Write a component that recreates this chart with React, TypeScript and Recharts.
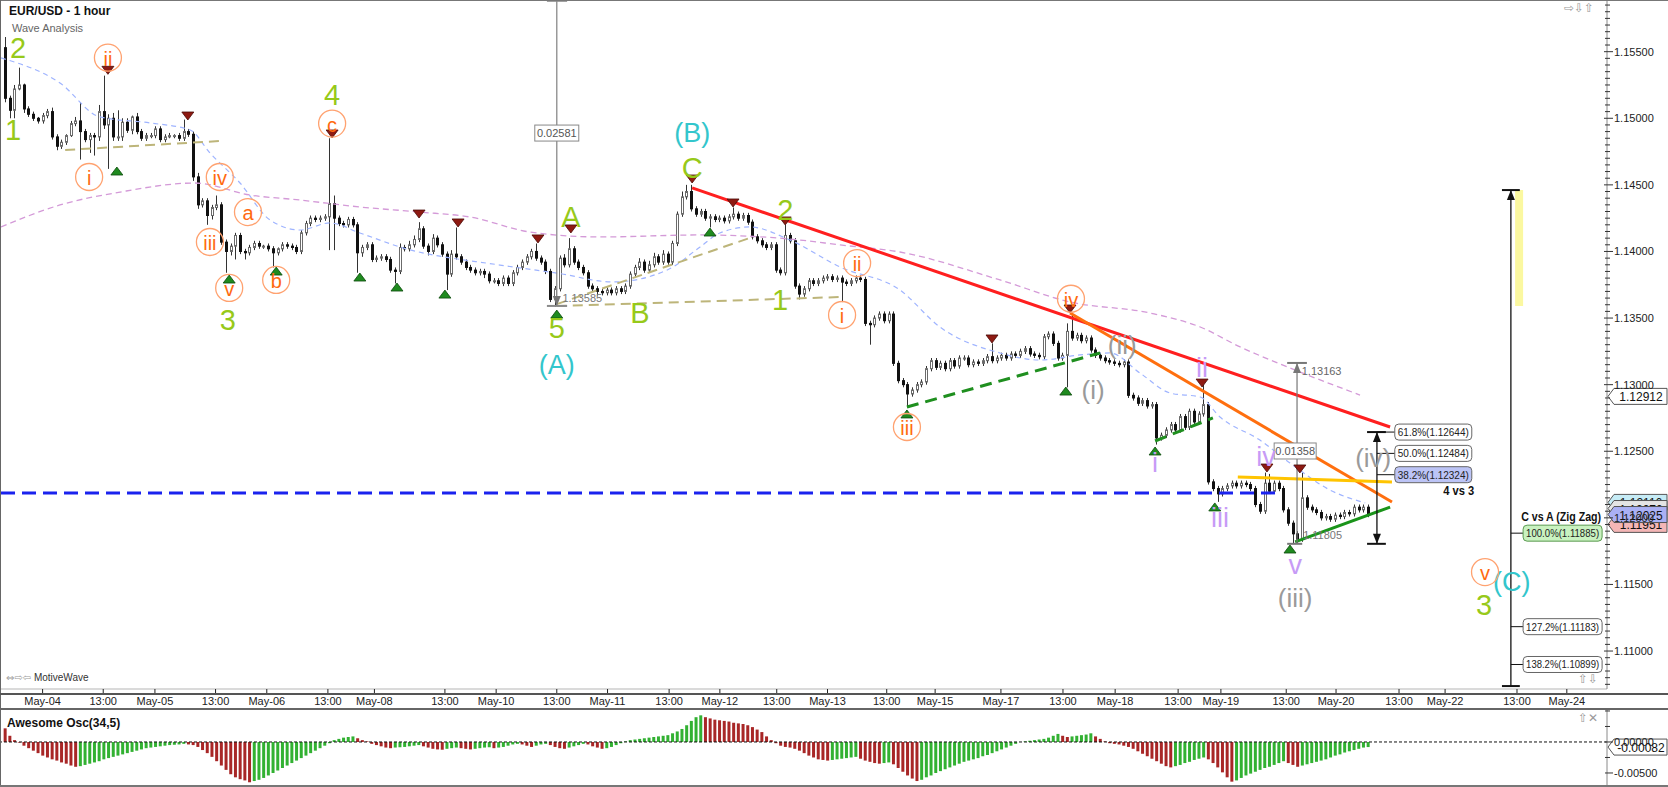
import React from "react";
import {
  ComposedChart,
  BarChart,
  Bar,
  Line,
  XAxis,
  YAxis,
  ReferenceLine,
  ReferenceDot,
  ReferenceArea,
  Cell,
} from "recharts";

const FONT = '"Liberation Sans", Arial, sans-serif';

// prices are kept as pips above 1.1000 (e.g. 523 -> 1.15230)
const firstOpen = 553;

const closes = [
  515, 506, 522, 525, 507, 503, 500, 498, 502, 505,
  486, 479, 482, 487, 496, 498, 490, 484, 487, 486,
  505, 495, 500, 486, 486, 497, 491, 501, 490, 485,
  487, 487, 492, 484, 486, 487, 487, 485, 490, 488,
  456, 435, 438, 427, 433, 435, 407, 400, 404, 412,
  400, 399, 403, 406, 404, 404, 402, 399, 402, 405,
  404, 403, 400, 414, 421, 425, 424, 425, 426, 436,
  425, 421, 420, 424, 420, 399, 403, 405, 394, 395,
  396, 394, 386, 385, 403, 402, 405, 409, 417, 404,
  400, 410, 405, 398, 383, 398, 396, 392, 388, 386,
  384, 385, 383, 378, 378, 376, 380, 376, 384, 388,
  392, 396, 400, 395, 392, 385, 364, 372, 395, 390,
  402, 392, 388, 384, 374, 372, 370, 369, 371, 369,
  372, 370, 374, 383, 388, 392, 386, 390, 396, 392,
  398, 392, 406, 428, 441, 445, 432, 428, 430, 425,
  426, 424, 425, 423, 426, 428, 425, 427, 422, 411,
  408, 405, 403, 405, 386, 384, 412, 408, 374, 368,
  372, 378, 376, 378, 380, 381, 379, 380, 377, 376,
  378, 380, 379, 346, 345, 350, 353, 348, 353, 316,
  303, 300, 293, 296, 300, 302, 312, 318, 313, 316,
  312, 318, 314, 320, 320, 315, 317, 316, 318, 321,
  318, 320, 322, 320, 323, 322, 325, 327, 323, 322,
  321, 336, 338, 331, 320, 322, 340, 335, 337, 333,
  335, 326, 322, 320, 318, 317, 316, 315, 317, 292,
  290, 286, 288, 284, 285, 260, 262, 266, 270, 266,
  276, 268, 280, 272, 278, 285, 227, 222, 218, 222,
  224, 226, 224, 226, 225, 222, 210, 205, 226, 220,
  226, 222, 206, 196, 188, 184, 215, 208, 206, 204,
  200, 201, 199, 202, 201, 204, 203, 208, 206, 208, 202.5,
];

const wickUp = [
  8, 2, 3, 13, 1, 2, 2, 1, 2, 2,
  3, 2, 2, 1, 2, 3, 14, 2, 2, 2,
  5, 27, 3, 4, 20, 3, 3, 1, 3, 2,
  2, 2, 2, 2, 2, 2, 1, 2, 9, 2,
  2, 3, 2, 2, 2, 7, 2, 2, 2, 2,
  2, 2, 2, 2, 2, 1, 2, 2, 1, 2,
  2, 2, 2, 2, 2, 2, 2, 2, 2, 49,
  6, 2, 2, 2, 2, 2, 2, 2, 2, 2,
  2, 2, 2, 2, 3, 2, 3, 3, 5, 2,
  2, 3, 2, 2, 2, 3, 20, 2, 2, 2,
  2, 2, 2, 2, 2, 2, 2, 2, 2, 2,
  2, 2, 2, 6, 2, 2, 2, 2, 2, 3,
  8, 2, 2, 2, 2, 2, 2, 2, 2, 2,
  2, 2, 2, 2, 2, 3, 2, 3, 3, 2,
  3, 2, 2, 2, 4, 5, 5, 2, 2, 2,
  2, 2, 2, 2, 2, 5, 2, 2, 2, 2,
  2, 2, 2, 2, 2, 2, 8, 2, 2, 2,
  2, 2, 2, 2, 2, 2, 2, 2, 2, 2,
  2, 2, 2, 2, 2, 2, 2, 2, 2, 2,
  2, 2, 2, 2, 2, 2, 2, 2, 2, 2,
  2, 2, 2, 2, 2, 2, 2, 2, 2, 2,
  10, 2, 2, 2, 2, 2, 2, 2, 2, 2,
  2, 2, 2, 2, 2, 2, 6, 14, 2, 2,
  2, 2, 2, 2, 2, 2, 2, 2, 2, 2,
  2, 2, 2, 2, 2, 2, 2, 2, 2, 2,
  2, 2, 2, 2, 2, 15, 2, 2, 2, 2,
  2, 2, 2, 2, 2, 2, 2, 2, 8, 7,
  2, 2, 2, 2, 2, 2, 19, 2, 2, 2,
  2, 2, 2, 2, 2, 2, 2, 2, 2, 2, 2,
];

const wickDown = [
  3, 6, 6, 1, 3, 2, 2, 2, 2, 2,
  2, 3, 2, 2, 1, 2, 21, 2, 10, 14,
  3, 3, 33, 3, 3, 3, 2, 3, 2, 2,
  2, 2, 2, 2, 2, 1, 2, 2, 2, 2,
  3, 3, 2, 7, 3, 2, 2, 16, 3, 10,
  2, 5, 2, 2, 2, 2, 2, 11, 2, 2,
  2, 2, 2, 2, 2, 2, 2, 2, 2, 25,
  24, 2, 2, 2, 2, 15, 3, 2, 2, 2,
  2, 2, 2, 9, 2, 2, 2, 2, 2, 2,
  3, 2, 2, 2, 12, 2, 2, 2, 2, 2,
  2, 2, 3, 2, 2, 2, 2, 2, 2, 2,
  2, 2, 2, 2, 2, 2, 2, 5.5, 2, 2,
  2, 2, 2, 2, 2, 2, 3, 2, 2, 2,
  2, 2, 2, 2, 2, 2, 2, 2, 2, 2,
  2, 2, 2, 2, 2, 2, 2, 2, 2, 2,
  7, 2, 2, 2, 2, 2, 2, 2, 2, 2,
  2, 2, 2, 2, 2, 2, 2, 2, 2, 4,
  2, 2, 2, 2, 2, 2, 2, 2, 15, 2,
  2, 2, 2, 2, 15, 2, 2, 2, 2, 2,
  2, 2, 10, 2, 2, 2, 2, 2, 2, 2,
  2, 2, 2, 2, 2, 2, 2, 2, 2, 2,
  2, 2, 2, 2, 2, 2, 2, 2, 2, 2,
  2, 2, 2, 2, 2, 2, 24, 2, 2, 2,
  2, 2, 2, 2, 2, 2, 2, 2, 2, 2,
  2, 2, 2, 2, 2, 5, 2, 2, 2, 2,
  2, 2, 2, 2, 2, 2, 2, 2, 6, 2,
  2, 2, 2, 2, 2, 2, 2, 2, 2, 2,
  2, 2, 2, 2, 7.5, 3, 2, 2, 2, 2,
  2, 2, 2, 2, 2, 2, 2, 2, 2, 2, 2,
];

// Awesome Oscillator, in units of 0.0001
const aoValues = [
  22, 10, 3, -1, -6, -10, -14, -18, -22, -25,
  -28, -30, -33, -35, -38, -40, -39, -37, -35, -33,
  -31, -28, -26, -24, -22, -20, -18, -16, -14, -12,
  -10, -9, -8, -7, -6, -5, -4.5, -4, -3, -4,
  -5, -8, -13, -18, -24, -31, -38, -45, -52, -57,
  -60, -62, -65, -63, -61, -58, -54, -50, -46, -42,
  -38, -34, -30, -26, -22, -18, -14, -10, -6, -2,
  3, 5, 7, 8, 9, 6, 3, 1, -3, -5,
  -7, -9, -10, -9, -8.5, -8, -7, -6, -5, -7,
  -9, -11, -12, -12.5, -11, -10, -9, -10, -11, -12,
  -11, -10, -9, -8.5, -10, -9, -8, -6, -4, -3,
  -4, -6, -8, -6, -4, -3, -5, -8, -10, -11,
  -9, -7, -5, -3, -4, -7, -9, -11, -10, -8,
  -5, -2, 1, 3, 4, 5, 6, 7, 8, 9,
  10, 11, 14, 17, 21, 27, 34, 40, 43, 40,
  38, 36, 35, 34, 33, 31, 30, 29, 27, 24,
  20, 16, 9, 3, -2, -6, -8, -9, -11, -14,
  -18, -22, -25, -28, -29, -30, -29, -28, -27, -26,
  -25, -24, -27, -30, -32, -34, -35, -34, -33, -36,
  -42, -48, -54, -59, -63, -61, -57, -54, -50, -47,
  -44, -41, -38, -35, -32, -30, -28, -26, -23, -21,
  -18, -15, -12, -9, -6, -3, 0, 1, 2, 3,
  4, 5, 7, 10, 13, 10, 8, 9, 10, 11,
  12, 14, 9, 5, 1, -2, -3, -4, -6, -8,
  -11, -15, -19, -23, -27, -31, -35, -39, -41, -39,
  -37, -34, -32, -29, -27, -25, -28, -34, -41, -49,
  -57, -64, -62, -58, -54, -51, -48, -45, -42, -40,
  -37, -34, -31, -34, -37, -40, -38, -36, -34, -32,
  -30, -28, -25, -22, -20, -17, -15, -13, -11, -9, -8.2,
];

// moving averages: [bar, pips]
const slowMA = [
  [-0.85, 418.4], [11.7, 434.9], [24.5, 444.6], [40.4, 451.4], [52.1, 442.4],
  [62.8, 438.6], [75.5, 433.4], [88.3, 429.6], [98.9, 425.9], [111.7, 414.6],
  [126.6, 410.9], [147.9, 412.4], [169.1, 408.6], [177.7, 404.9], [190.4, 399.6],
  [211.7, 378.6], [226.6, 362.1], [243.6, 353.8], [254.3, 343.3], [262.8, 328.3],
  [271.3, 315.5], [288.3, 292.2],
];
const fastMA = [
  [-0.85, 545.3], [11.7, 526.5], [20.2, 501], [30.9, 496.5], [39.4, 491.2],
  [43.6, 474], [50, 451.4], [56.4, 423.6], [62.8, 416.1], [69.1, 421.4],
  [75.5, 413.9], [84, 403.4], [105.3, 389.8], [117.4, 383.8], [129.4, 377.1],
  [140.9, 386.1], [147.9, 403.4], [152.1, 413.9], [158.5, 418.4], [167, 408.6],
  [177.7, 388.3], [190.4, 371.1], [198.9, 343.3], [211.7, 323.8], [220.2, 318.5],
  [228.7, 322.3], [235.1, 323.8], [241.5, 308.7], [247.9, 293.7], [254.3, 290.7],
  [258.5, 275.7], [267, 258.4], [273.4, 241.2], [281.9, 220.9], [289.4, 211.2],
];

const tickPos = [
  8, 20.9, 31.9, 44.8, 55.7, 68.7, 78.6, 93.6, 104.5, 117.4, 128.2, 141.3, 152.1, 164.2,
  175, 187.6, 197.9, 211.9, 225.1, 236.2, 249.6, 258.7, 272.6, 283.2, 296.6, 306.4, 321.7, 332.3,
];
const tickLabels = [
  "May-04", "13:00", "May-05", "13:00", "May-06", "13:00", "May-08", "13:00", "May-10", "13:00",
  "May-11", "13:00", "May-12", "13:00", "May-13", "13:00", "May-15", "May-17", "13:00", "May-18",
  "13:00", "May-19", "13:00", "May-20", "13:00", "May-22", "13:00", "May-24",
];

const priceLabels = [1.11, 1.115, 1.12, 1.125, 1.13, 1.135, 1.14, 1.145, 1.15, 1.155];

const greenLabels = [
  { t: "2", i: 2.8, v: 553 }, { t: "1", i: 1.7, v: 491 }, { t: "3", i: 47.4, v: 348.5 },
  { t: "4", i: 69.6, v: 517.5 }, { t: "A", i: 120.4, v: 425.9 }, { t: "5", i: 117.4, v: 342.5 },
  { t: "B", i: 135.1, v: 353.8 }, { t: "C", i: 146.2, v: 462.7 }, { t: "2", i: 166, v: 431.1 },
  { t: "1", i: 164.9, v: 363.6 }, { t: "3", i: 314.7, v: 134.6 },
];
const cyanLabels = [
  { t: "(B)", i: 146.2, v: 489 }, { t: "(A)", i: 117.4, v: 314.8 }, { t: "(C)", i: 320.6, v: 151.8 },
];
const orangeLabels = [
  { t: "ii", i: 21.9, v: 545.5 }, { t: "i", i: 17.9, v: 455.9 }, { t: "iv", i: 45.7, v: 455.9 },
  { t: "a", i: 51.7, v: 429.6 }, { t: "iii", i: 43.6, v: 407.1 }, { t: "v", i: 47.7, v: 372.6 },
  { t: "b", i: 57.7, v: 378.6 }, { t: "c", i: 69.6, v: 496 }, { t: "ii", i: 181.3, v: 391.3 },
  { t: "i", i: 178.1, v: 352.3 }, { t: "iii", i: 191.9, v: 268.2 }, { t: "iv", i: 226.8, v: 364.5 },
  { t: "v", i: 314.9, v: 159.3 },
];
const purpleLabels = [
  { t: "ii", i: 254.7, v: 312.5 }, { t: "i", i: 244.7, v: 241.2 }, { t: "iii", i: 258.5, v: 199.9 },
  { t: "iv", i: 268.3, v: 245.7 }, { t: "v", i: 274.5, v: 164.6 },
];
const greyLabels = [
  { t: "(ii)", i: 237.7, v: 329.8 }, { t: "(i)", i: 231.5, v: 296 },
  { t: "(iv)", i: 291.1, v: 244.9 }, { t: "(iii)", i: 274.5, v: 139.8 },
];

const downMarks = [
  [21.9, 533], [38.9, 498.7], [69.6, 485.2], [88.1, 425.1], [96.4, 418.4], [113.4, 406.4],
  [120.4, 413.9], [146.2, 451.4], [154.9, 433.4], [166, 419.9], [210, 331.3], [226.6, 353.8],
  [254.7, 298.2], [268.5, 234.4], [275.5, 233.7],
];
const upMarks = [
  [23.8, 463.4], [47.7, 382.3], [57.7, 388.3], [75.5, 383.8], [83.4, 376.3], [93.6, 371],
  [117.4, 356], [150, 417.6], [191.9, 281], [225.7, 298.2], [244.7, 253.2], [257.4, 211.2],
  [273.4, 179.6],
];

const fibIv = [
  { t: "61.8%(1.12644)", p: 1.12644, hi: false },
  { t: "50.0%(1.12484)", p: 1.12484, hi: false },
  { t: "38.2%(1.12324)", p: 1.12324, hi: true },
];
const fibC = [
  { t: "100.0%(1.11885)", p: 1.11885 },
  { t: "127.2%(1.11183)", p: 1.11183 },
  { t: "138.2%(1.10899)", p: 1.10899 },
];
const priceFlags = [
  { t: "1.12116", p: 1.12116, fill: "#c6ecf6" },
  { t: "1.12070", p: 1.1207, fill: "#e4e4e4" },
  { t: "1.12912", p: 1.12912, fill: "#ffffff" },
  { t: "1.11951", p: 1.11951, fill: "#f4b6b6" },
  { t: "1.12025", p: 1.12025, fill: "#aab0f4" },
];

const toPrice = (v: number) => 1.1 + v / 10000;

const candles = closes.map((c, i) => {
  const o = i === 0 ? firstOpen : closes[i - 1];
  const hi = Math.max(o, c) + wickUp[i];
  const lo = Math.min(o, c) - wickDown[i];
  return {
    i,
    open: toPrice(o),
    close: toPrice(c),
    high: toPrice(hi),
    low: toPrice(lo),
    range: [toPrice(lo), toPrice(hi)],
  };
});

const aoRows = aoValues.map((v, i) => ({
  i,
  ao: v / 10000,
  up: i === 0 ? false : v > aoValues[i - 1],
}));

const slowRows = slowMA.map(([i, v]) => ({ i, p: toPrice(v) }));
const fastRows = fastMA.map(([i, v]) => ({ i, p: toPrice(v) }));

const yTicks: number[] = [];
for (let k = 0; k <= 102; k++) yTicks.push(+(1.1075 + k * 0.0005).toFixed(4));

const X_DOMAIN: [number, number] = [-0.851, 340.85];

const Candle = (props: any) => {
  const { x, y, width, height, payload } = props;
  if (!payload || height == null) return null;
  const { open, close, high, low } = payload;
  const cx = Math.round(x + width / 2) + 0.5;
  const k = high - low > 0 ? height / (high - low) : 0;
  const yO = y + (high - open) * k;
  const yC = y + (high - close) * k;
  const top = Math.min(yO, yC);
  const h = Math.max(Math.abs(yO - yC), 1);
  const up = close >= open;
  return (
    <g>
      <line x1={cx} x2={cx} y1={y} y2={y + height} stroke="#333" strokeWidth={1} />
      <rect
        x={cx - 1}
        y={top}
        width={2}
        height={h}
        fill={up ? "#ffffff" : "#111111"}
        stroke={up ? "#6b6b6b" : "#111111"}
        strokeWidth={1}
      />
    </g>
  );
};

const XTick = (props: any) => {
  const { x, y, payload } = props;
  const k = tickPos.indexOf(payload.value);
  return (
    <g>
      <line x1={x} x2={x} y1={y} y2={y + 4} stroke="#222" />
      <text x={x} y={y + 16} textAnchor="middle" fontSize={11} fill="#222" fontFamily={FONT}>
        {tickLabels[k]}
      </text>
    </g>
  );
};

const YTick = (props: any) => {
  const { x, y, payload } = props;
  const major = priceLabels.some((p) => Math.abs(p - payload.value) < 1e-6);
  return (
    <g>
      <line x1={x - (major ? 3 : 2)} x2={x + (major ? 6 : 3)} y1={y} y2={y} stroke="#333" />
      {major && (
        <text x={x + 7} y={y + 4} fontSize={11} fill="#222" fontFamily={FONT}>
          {payload.value.toFixed(5)}
        </text>
      )}
    </g>
  );
};

const OscTick = (props: any) => {
  const { x, y, payload } = props;
  const major = Math.abs(payload.value) < 1e-7 || Math.abs(payload.value + 0.005) < 1e-7;
  return (
    <g>
      <line x1={x - 2} x2={x + (major ? 6 : 3)} y1={y} y2={y} stroke="#333" />
      {major && (
        <text x={x + 7} y={y + 4} fontSize={11} fill="#222" fontFamily={FONT}>
          {payload.value.toFixed(5)}
        </text>
      )}
    </g>
  );
};

const label = (t: string, size: number, color: string, weight = "normal", anchor = "middle", fit?: number) =>
  (p: any) => (
    <text
      x={p.cx}
      y={p.cy}
      textAnchor={anchor as any}
      dominantBaseline="central"
      fontSize={size}
      fontWeight={weight}
      fill={color}
      fontFamily={FONT}
      textLength={fit}
      lengthAdjust={fit ? "spacingAndGlyphs" : undefined}
    >
      {t}
    </text>
  );

const circled = (t: string) => (p: any) => (
  <g>
    <circle cx={p.cx} cy={p.cy} r={13.5} fill="none" stroke="#ffa270" strokeWidth={1.3} />
    <text
      x={p.cx}
      y={p.cy + 1}
      textAnchor="middle"
      dominantBaseline="central"
      fontSize={20}
      fill="#ff6a10"
      fontFamily={FONT}
    >
      {t}
    </text>
  </g>
);

const triDown = (p: any) => (
  <polygon
    points={`${p.cx - 6},${p.cy - 8} ${p.cx + 6},${p.cy - 8} ${p.cx},${p.cy}`}
    fill="#8e1a12"
    stroke="#4a0a06"
    strokeWidth={0.8}
  />
);
const triUp = (p: any) => (
  <polygon
    points={`${p.cx - 6},${p.cy + 8} ${p.cx + 6},${p.cy + 8} ${p.cx},${p.cy}`}
    fill="#1f8a1f"
    stroke="#0b4a0b"
    strokeWidth={0.8}
  />
);
const arrowUp = (color: string) => (p: any) => (
  <polygon points={`${p.cx - 4},${p.cy + 10} ${p.cx + 4},${p.cy + 10} ${p.cx},${p.cy}`} fill={color} />
);
const arrowDown = (color: string) => (p: any) => (
  <polygon points={`${p.cx - 4},${p.cy - 10} ${p.cx + 4},${p.cy - 10} ${p.cx},${p.cy}`} fill={color} />
);

const box = (t: string, w: number, fill: string, stroke: string, color = "#222") => (p: any) => (
  <g>
    <rect x={p.cx} y={p.cy - 8} width={w} height={16} rx={4} fill={fill} stroke={stroke} />
    <text
      x={p.cx + w / 2}
      y={p.cy + 4}
      textAnchor="middle"
      fontSize={11}
      fill={color}
      fontFamily={FONT}
      textLength={w - 6}
      lengthAdjust="spacingAndGlyphs"
    >
      {t}
    </text>
  </g>
);
const centerBox = (t: string, w: number) => (p: any) => (
  <g>
    <rect x={p.cx - w / 2} y={p.cy - 8} width={w} height={16} fill="#fff" stroke="#888" />
    <text x={p.cx} y={p.cy + 4} textAnchor="middle" fontSize={11} fill="#555" fontFamily={FONT}>
      {t}
    </text>
  </g>
);
const flag = (t: string, fill: string) => (p: any) => (
  <g>
    <path
      d={`M${p.cx + 1},${p.cy} L${p.cx + 7},${p.cy - 8} L${p.cx + 60},${p.cy - 8} L${p.cx + 60},${p.cy + 8} L${p.cx + 7},${p.cy + 8} Z`}
      fill={fill}
      stroke="#555"
    />
    <text x={p.cx + 34} y={p.cy + 5} textAnchor="middle" fontSize={12} fill="#111" fontFamily={FONT}>
      {t}
    </text>
  </g>
);

const seg = (x1: number, v1: number, x2: number, v2: number) => [
  { x: x1, y: toPrice(v1) },
  { x: x2, y: toPrice(v2) },
];
const segP = (x1: number, p1: number, x2: number, p2: number) => [
  { x: x1, y: p1 },
  { x: x2, y: p2 },
];

export default function App() {
  return (
    <div
      style={{
        position: "absolute",
        left: 0,
        top: 0,
        width: 1668,
        height: 787,
        background: "#fff",
        overflow: "hidden",
        fontFamily: FONT,
      }}
    >
      <div style={{ position: "absolute", left: 0, top: 0 }}>
        <ComposedChart
          width={1668}
          height={709}
          data={candles}
          margin={{ top: 0, right: 0, bottom: 0, left: 1 }}
        >
          <XAxis
            type="number"
            dataKey="i"
            domain={X_DOMAIN}
            allowDataOverflow
            ticks={tickPos}
            interval={0}
            height={20}
            tickSize={0}
            tickMargin={0}
            tick={<XTick />}
            axisLine={{ stroke: "#b5b5b5", strokeWidth: 1 }}
            tickLine={false}
          />
          <YAxis
            orientation="right"
            width={61}
            domain={[1.10715, 1.15888]}
            allowDataOverflow
            ticks={yTicks}
            interval={0}
            tickSize={0}
            tickMargin={0}
            tick={<YTick />}
            tickLine={false}
            axisLine={{ stroke: "#8a8a8a" }}
          />
          <Line
            data={slowRows}
            dataKey="p"
            type="monotone"
            stroke="#d49ad8"
            strokeWidth={1.3}
            strokeDasharray="6 4"
            dot={false}
            isAnimationActive={false}
          />
          <Line
            data={fastRows}
            dataKey="p"
            type="monotone"
            stroke="#9fb4ff"
            strokeWidth={1.2}
            strokeDasharray="5 4"
            dot={false}
            isAnimationActive={false}
          />

          {/* olive dashed channel lines */}
          <ReferenceLine segment={seg(12.8, 476.2, 45.7, 482.9)} stroke="#bdb57a" strokeWidth={2} strokeDasharray="10 6" ifOverflow="visible" />
          <ReferenceLine segment={seg(117.4, 359, 177.7, 365.8)} stroke="#bdb57a" strokeWidth={2} strokeDasharray="10 6" ifOverflow="visible" />
          <ReferenceLine segment={seg(117.4, 360.5, 159.1, 410.9)} stroke="#bdb57a" strokeWidth={2} strokeDasharray="10 6" ifOverflow="visible" />

          {/* blue dashed support */}
          <ReferenceLine segment={seg(-0.85, 218.7, 271.7, 218.7)} stroke="#1a22ee" strokeWidth={3} strokeDasharray="14 7" ifOverflow="visible" />

          <Bar dataKey="range" barSize={3} shape={<Candle />} isAnimationActive={false} />

          {/* trend lines */}
          <ReferenceLine segment={seg(146.2, 447.7, 294.7, 268.2)} stroke="#ff1f1f" strokeWidth={3} ifOverflow="visible" />
          <ReferenceLine segment={seg(226.6, 353.8, 295.1, 211.9)} stroke="#ff6f0f" strokeWidth={3} ifOverflow="visible" />
          <ReferenceLine segment={seg(262.3, 230.7, 295.1, 226.9)} stroke="#ffc400" strokeWidth={3} ifOverflow="visible" />
          <ReferenceLine segment={seg(274.5, 181.9, 294.7, 208.1)} stroke="#1a941a" strokeWidth={3} ifOverflow="visible" />
          <ReferenceLine segment={seg(191.9, 283.2, 233, 323.8)} stroke="#1f8f1f" strokeWidth={3} strokeDasharray="12 7" ifOverflow="visible" />
          <ReferenceLine segment={seg(244.7, 257.7, 257, 275)} stroke="#1f8f1f" strokeWidth={3} strokeDasharray="12 7" ifOverflow="visible" />

          {/* measuring tool (A) */}
          <ReferenceLine segment={seg(117.4, 359.1, 117.4, 588.5)} stroke="#8a8a8a" strokeWidth={1.3} ifOverflow="visible" />
          <ReferenceLine segment={seg(115.3, 359.1, 119.6, 359.1)} stroke="#8a8a8a" strokeWidth={2} ifOverflow="visible" />
          <ReferenceLine segment={seg(115.3, 588.2, 119.6, 588.2)} stroke="#8a8a8a" strokeWidth={2} ifOverflow="visible" />
          <ReferenceDot x={117.4} y={toPrice(359.1)} r={0} ifOverflow="visible" shape={arrowDown("#777")} />
          <ReferenceDot x={117.4} y={toPrice(488.9)} r={0} ifOverflow="visible" shape={centerBox("0.02581", 44)} />
          <ReferenceDot x={118.6} y={toPrice(365)} r={0} ifOverflow="visible" shape={label("1.13585", 11, "#777", "normal", "start")} />

          {/* measuring tool (iii) */}
          <ReferenceLine segment={seg(274.9, 180.5, 274.9, 316.3)} stroke="#777" strokeWidth={1.2} ifOverflow="visible" />
          <ReferenceLine segment={seg(272.8, 316.3, 277, 316.3)} stroke="#777" strokeWidth={2} ifOverflow="visible" />
          <ReferenceLine segment={seg(272.8, 180.5, 276, 180.5)} stroke="#777" strokeWidth={2} ifOverflow="visible" />
          <ReferenceDot x={274.9} y={toPrice(316.3)} r={0} ifOverflow="visible" shape={arrowUp("#777")} />
          <ReferenceDot x={275.9} y={toPrice(310.3)} r={0} ifOverflow="visible" shape={label("1.13163", 11, "#666", "normal", "start")} />
          <ReferenceDot x={276.2} y={toPrice(187.1)} r={0} ifOverflow="visible" shape={label("1.11805", 11, "#777", "normal", "start")} />
          <ReferenceDot x={274.5} y={toPrice(250.2)} r={0} ifOverflow="visible" shape={centerBox("0.01358", 42)} />

          {/* fib tool (iv) */}
          <ReferenceLine segment={segP(291.9, 1.12644, 291.9, 1.11805)} stroke="#111" strokeWidth={1.3} ifOverflow="visible" />
          <ReferenceLine segment={segP(289.8, 1.12644, 293.8, 1.12644)} stroke="#111" strokeWidth={2} ifOverflow="visible" />
          <ReferenceLine segment={segP(289.8, 1.11805, 293.8, 1.11805)} stroke="#111" strokeWidth={2} ifOverflow="visible" />
          <ReferenceDot x={291.9} y={1.12644} r={0} ifOverflow="visible" shape={arrowUp("#111")} />
          <ReferenceDot x={291.9} y={1.11805} r={0} ifOverflow="visible" shape={arrowDown("#111")} />
          {fibIv.map((f) => (
            <ReferenceLine key={"fc" + f.t} segment={segP(291.9, f.p, 295.7, f.p)} stroke="#111" ifOverflow="visible" />
          ))}
          {fibIv.map((f) => (
            <ReferenceDot
              key={"fb" + f.t}
              x={295.7}
              y={f.p}
              r={0}
              ifOverflow="visible"
              shape={box(f.t, 77, f.hi ? "#bcc4f6" : "#ffffff", "#666")}
            />
          ))}
          <ReferenceDot x={312.6} y={toPrice(220.2)} r={0} ifOverflow="visible" shape={label("4 vs 3", 12, "#111", "bold", "end", 31)} />

          {/* C vs A projection */}
          <ReferenceArea x1={321.3} x2={323} y1={toPrice(359)} y2={toPrice(446.1)} fill="#fbf8a0" fillOpacity={1} stroke="none" ifOverflow="visible" />
          <ReferenceLine segment={seg(320.4, 73.7, 320.4, 446.1)} stroke="#111" strokeWidth={1.3} ifOverflow="visible" />
          <ReferenceLine segment={seg(318.5, 446.1, 322.3, 446.1)} stroke="#111" strokeWidth={2} ifOverflow="visible" />
          <ReferenceLine segment={seg(318.5, 73.7, 322.3, 73.7)} stroke="#111" strokeWidth={2} ifOverflow="visible" />
          <ReferenceDot x={320.4} y={toPrice(446.1)} r={0} ifOverflow="visible" shape={arrowUp("#111")} />
          {fibC.map((f) => (
            <ReferenceLine key={"cc" + f.t} segment={segP(320.4, f.p, 323, f.p)} stroke="#111" ifOverflow="visible" />
          ))}
          {fibC.map((f, k) => (
            <ReferenceDot
              key={"cb" + f.t}
              x={323}
              y={f.p}
              r={0}
              ifOverflow="visible"
              shape={box(f.t, 79, k === 0 ? "#c9f2c0" : "#ffffff", k === 0 ? "#5a9a50" : "#666")}
            />
          ))}
          <ReferenceDot x={339.6} y={toPrice(200.6)} r={0} ifOverflow="visible" shape={label("C vs A (Zig Zag)", 12, "#111", "bold", "end", 80)} />

          {/* pivot markers */}
          {downMarks.map(([i, v], k) => (
            <ReferenceDot key={"dm" + k} x={i} y={toPrice(v)} r={0} ifOverflow="visible" shape={triDown} />
          ))}
          {upMarks.map(([i, v], k) => (
            <ReferenceDot key={"um" + k} x={i} y={toPrice(v)} r={0} ifOverflow="visible" shape={triUp} />
          ))}

          {/* wave labels */}
          {greenLabels.map((l, k) => (
            <ReferenceDot key={"gl" + k} x={l.i} y={toPrice(l.v)} r={0} ifOverflow="visible" shape={label(l.t, 29, "#97c91a")} />
          ))}
          {cyanLabels.map((l, k) => (
            <ReferenceDot key={"cl" + k} x={l.i} y={toPrice(l.v)} r={0} ifOverflow="visible" shape={label(l.t, 27, "#33c6cc")} />
          ))}
          {orangeLabels.map((l, k) => (
            <ReferenceDot key={"ol" + k} x={l.i} y={toPrice(l.v)} r={0} ifOverflow="visible" shape={circled(l.t)} />
          ))}
          {purpleLabels.map((l, k) => (
            <ReferenceDot key={"pl" + k} x={l.i} y={toPrice(l.v)} r={0} ifOverflow="visible" shape={label(l.t, 27, "#c79bf6")} />
          ))}
          {greyLabels.map((l, k) => (
            <ReferenceDot key={"rl" + k} x={l.i} y={toPrice(l.v)} r={0} ifOverflow="visible" shape={label(l.t, 26, "#9a9a9a")} />
          ))}

          {/* price flags on the axis */}
          {priceFlags.map((f) => (
            <ReferenceDot key={"pf" + f.t} x={X_DOMAIN[1]} y={f.p} r={0} ifOverflow="visible" shape={flag(f.t, f.fill)} />
          ))}
        </ComposedChart>
      </div>

      <div style={{ position: "absolute", left: 0, top: 709 }}>
        <BarChart width={1668} height={77} data={aoRows} margin={{ top: 0, right: 0, bottom: 0, left: 1 }}>
          <XAxis type="number" dataKey="i" domain={X_DOMAIN} allowDataOverflow hide />
          <YAxis
            orientation="right"
            width={61}
            domain={[-0.0071, 0.00532]}
            allowDataOverflow
            ticks={[-0.0075, -0.005, -0.0025, 0, 0.0025, 0.005]}
            interval={0}
            tickSize={0}
            tickMargin={0}
            tick={<OscTick />}
            tickLine={false}
            axisLine={{ stroke: "#8a8a8a" }}
          />
          <ReferenceLine y={0} stroke="#111" strokeDasharray="3 2" />
          <Bar dataKey="ao" barSize={3} isAnimationActive={false}>
            {aoRows.map((r, k) => (
              <Cell key={k} fill={r.up ? "#32b132" : "#a82626"} />
            ))}
          </Bar>
          <ReferenceDot x={X_DOMAIN[1]} y={-0.00082} r={0} ifOverflow="visible" shape={flag("-0.00082", "#ffffff")} />
        </BarChart>
      </div>

      {/* frame */}
      <div style={{ position: "absolute", left: 0, top: 0, width: 1668, height: 1, background: "#777" }} />
      <div style={{ position: "absolute", left: 0, top: 0, width: 1, height: 787, background: "#666" }} />
      <div style={{ position: "absolute", left: 0, top: 693, width: 1668, height: 2, background: "#555" }} />
      <div style={{ position: "absolute", left: 0, top: 708, width: 1668, height: 2, background: "#666" }} />
      <div style={{ position: "absolute", left: 0, top: 785, width: 1668, height: 2, background: "#777" }} />

      {/* captions */}
      <div style={{ position: "absolute", left: 9, top: 4, fontSize: 12, fontWeight: "bold", color: "#111" }}>
        EUR/USD - 1 hour
      </div>
      <div style={{ position: "absolute", left: 12, top: 22, fontSize: 11, color: "#666" }}>Wave Analysis</div>
      <div style={{ position: "absolute", left: 6, top: 672, fontSize: 10, color: "#333" }}>
        <span style={{ color: "#999", fontFamily: "DejaVu Sans" }}>⇔⇨⇦</span> MotiveWave
      </div>
      <div style={{ position: "absolute", left: 7, top: 716, fontSize: 12, fontWeight: "bold", color: "#111" }}>
        Awesome Osc(34,5)
      </div>
      <div style={{ position: "absolute", left: 1564, top: 1, fontSize: 12, color: "#999", fontFamily: "DejaVu Sans" }}>
        ⇨⇩⇧
      </div>
      <div style={{ position: "absolute", left: 1578, top: 672, fontSize: 12, color: "#999", fontFamily: "DejaVu Sans" }}>
        ⇧⇩
      </div>
      <div style={{ position: "absolute", left: 1578, top: 711, fontSize: 12, color: "#999", fontFamily: "DejaVu Sans" }}>
        ⇧✕
      </div>
    </div>
  );
}
